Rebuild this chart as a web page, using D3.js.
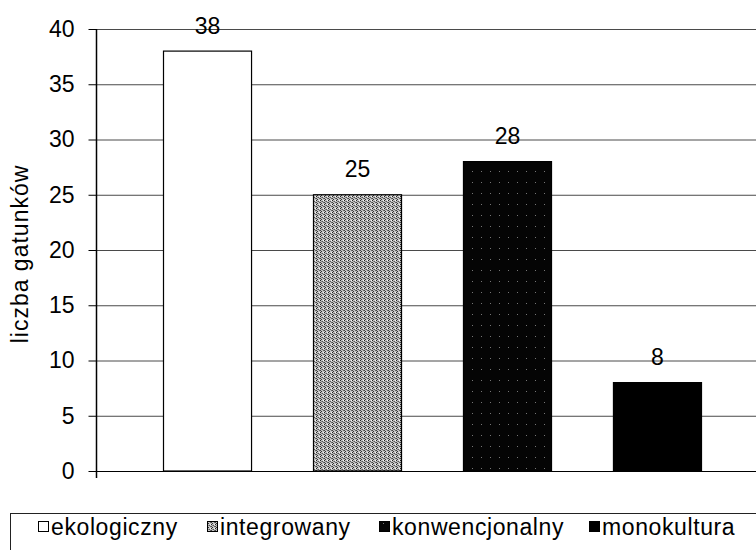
<!DOCTYPE html>
<html>
<head>
<meta charset="utf-8">
<script src="https://cdn.jsdelivr.net/npm/d3@7"></script>
<style>
  html, body { margin: 0; padding: 0; background: #fff; }
  svg { display: block; font-family: "Liberation Sans", Arial, sans-serif; }
</style>
</head>
<body>
<svg id="chart" width="756" height="550"></svg>
<script>
// ---- data ----
const categories = ["ekologiczny", "integrowany", "konwencjonalny", "monokultura"];
const values = [38, 25, 28, 8];
const yTicks = [0, 5, 10, 15, 20, 25, 30, 35, 40];
const yTitle = "liczba gatunków";

// ---- layout ----
const svg = d3.select("#chart");
const axisX = 96, yBottom = 471, yTop = 29, rightEdge = 756;
const FONT = 23;

const y = d3.scaleLinear().domain([0, 40]).range([yBottom, yTop]);
const x = d3.scaleBand().domain(categories).range([132.5, 732.5])
  .paddingInner(0.413).paddingOuter(0.2067);

// patterns
const defs = svg.append("defs");
const pGrey = defs.append("pattern").attr("id", "pat-grey")
  .attr("patternUnits", "userSpaceOnUse").attr("width", 4).attr("height", 4);
pGrey.append("rect").attr("width", 4).attr("height", 4).attr("fill", "#c4c4c4");
[[0,0,"#222"],[2,1,"#555"],[1,3,"#333"],[3,2,"#666"],[1,1,"#888"],[3,0,"#f0f0f0"],[0,2,"#444"]]
  .forEach(([px,py,c]) => pGrey.append("rect").attr("x", px).attr("y", py)
    .attr("width", 1).attr("height", 1).attr("fill", c));
const pDark = defs.append("pattern").attr("id", "pat-dark")
  .attr("patternUnits", "userSpaceOnUse").attr("width", 9).attr("height", 11);
pDark.append("rect").attr("width", 9).attr("height", 11).attr("fill", "#050505");
pDark.append("rect").attr("x", 4).attr("y", 6).attr("width", 1).attr("height", 1).attr("fill", "#777");

const fills = ["#ffffff", "url(#pat-grey)", "url(#pat-dark)", "#000000"];

// gridlines
svg.append("g").selectAll("line").data(yTicks.filter(d => d > 0)).join("line")
  .attr("x1", axisX).attr("x2", rightEdge)
  .attr("y1", d => y(d) + 0.5).attr("y2", d => y(d) + 0.5)
  .attr("stroke", "#4a4a4a").attr("stroke-width", 1);

// x baseline
svg.append("line").attr("x1", axisX).attr("x2", rightEdge)
  .attr("y1", y(0) + 0.5).attr("y2", y(0) + 0.5)
  .attr("stroke", "#000").attr("stroke-width", 1.2);

// bars
svg.append("g").selectAll("rect").data(categories).join("rect")
  .attr("x", d => x(d))
  .attr("y", (d, i) => y(values[i]))
  .attr("width", x.bandwidth())
  .attr("height", (d, i) => y(0) - y(values[i]))
  .attr("fill", (d, i) => fills[i])
  .attr("stroke", "#000").attr("stroke-width", 1.2);

// value labels
svg.append("g").selectAll("text").data(categories).join("text")
  .attr("x", d => x(d) + x.bandwidth() / 2)
  .attr("y", (d, i) => y(values[i]) - 17.5)
  .attr("text-anchor", "middle")
  .attr("font-size", FONT).attr("fill", "#000")
  .text((d, i) => values[i]);

// y axis
const yAxis = svg.append("g").attr("transform", `translate(${axisX + 0.5},0)`)
  .call(d3.axisLeft(y).tickValues(yTicks).tickSize(8).tickPadding(14));
yAxis.select(".domain").attr("stroke", "#000").attr("stroke-width", 1.5)
  .attr("d", `M0,${y(0) + 7}V${yTop}`);
yAxis.selectAll(".tick line").attr("stroke", "#000");
yAxis.selectAll(".tick text").attr("font-size", FONT)
  .attr("font-family", "Liberation Sans, Arial, sans-serif").attr("fill", "#000");

// y title
svg.append("text")
  .attr("transform", `translate(28,254) rotate(-90)`)
  .attr("text-anchor", "middle")
  .attr("font-size", FONT).attr("letter-spacing", 1).attr("fill", "#000")
  .text(yTitle);

// legend
const legendX = [38, 207, 379, 589];
svg.append("rect").attr("x", 10.5).attr("y", 513.5)
  .attr("width", 760).attr("height", 60)
  .attr("fill", "none").attr("stroke", "#222").attr("stroke-width", 1);
const lg = svg.append("g").selectAll("g").data(categories).join("g")
  .attr("transform", (d, i) => `translate(${legendX[i]},0)`);
lg.append("rect").attr("x", 0.5).attr("y", 521.5).attr("width", 10).attr("height", 10)
  .attr("fill", (d, i) => fills[i]).attr("stroke", "#000").attr("stroke-width", 1);
lg.append("text").attr("x", 13).attr("y", 535)
  .attr("font-size", FONT).attr("letter-spacing", 0.6).attr("fill", "#000")
  .text(d => d);
</script>
</body>
</html>
